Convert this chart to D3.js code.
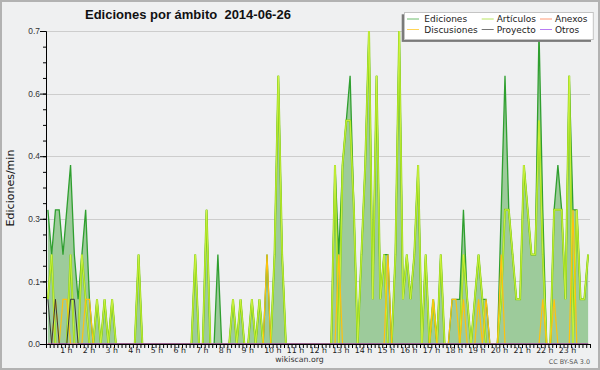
<!DOCTYPE html>
<html>
<head>
<meta charset="utf-8">
<script src="https://cdn.jsdelivr.net/npm/d3@7"></script>
<style>
  body { margin: 0; background: #fff; }
  svg { display: block; font-family: "DejaVu Sans", sans-serif; }
</style>
</head>
<body>
<div class="chart"></div>
<script>

// one value every 10 minutes (edits per minute), one row per hour
var ediciones = [
  0.3, 0.2, 0.3, 0.3, 0.2, 0.3,   // 0 h
  0.4, 0.2, 0.1, 0.2, 0.3, 0.1,   // 1 h
  0, 0.1, 0, 0.1, 0, 0.1,         // 2 h
  0, 0, 0, 0, 0, 0,               // 3 h
  0.2, 0, 0, 0, 0, 0,             // 4 h
  0, 0, 0, 0, 0, 0,               // 5 h
  0, 0, 0, 0.2, 0, 0,             // 6 h
  0.3, 0, 0, 0.2, 0, 0,           // 7 h
  0, 0.1, 0, 0.1, 0, 0,           // 8 h
  0.1, 0, 0.1, 0, 0.2, 0,         // 9 h
  0.2, 0.6, 0.2, 0, 0, 0,         // 10 h
  0, 0, 0, 0, 0, 0,               // 11 h
  0, 0, 0, 0, 0.4, 0.2,           // 12 h
  0.4, 0.5, 0.6, 0.3, 0, 0.2,     // 13 h
  0.4, 0.7, 0.1, 0.6, 0.1, 0.2,   // 14 h
  0.2, 0, 0.2, 0.7, 0.1, 0.2,     // 15 h
  0.1, 0.2, 0.4, 0, 0.2, 0,       // 16 h
  0.1, 0, 0.2, 0, 0, 0.1,         // 17 h
  0.1, 0.1, 0.3, 0.1, 0, 0.1,     // 18 h
  0.2, 0.1, 0.1, 0, 0, 0,         // 19 h
  0.3, 0.6, 0.3, 0.2, 0.1, 0.1,   // 20 h
  0.4, 0.3, 0.2, 0.2, 0.7, 0.3,   // 21 h
  0, 0, 0.3, 0.4, 0.3, 0.1,       // 22 h
  0.6, 0.3, 0.3, 0.1, 0.1, 0.2    // 23 h
];

var articulos = [
  0.1, 0.2, 0, 0, 0, 0,
  0.2, 0, 0, 0.2, 0.1, 0,
  0, 0.1, 0, 0.1, 0, 0.1,
  0, 0, 0, 0, 0, 0,
  0.2, 0, 0, 0, 0, 0,
  0, 0, 0, 0, 0, 0,
  0, 0, 0, 0.2, 0, 0,
  0.3, 0, 0, 0, 0, 0,
  0, 0.1, 0, 0.1, 0, 0,
  0.1, 0, 0.1, 0, 0, 0,
  0.2, 0.6, 0.2, 0, 0, 0,
  0, 0, 0, 0, 0, 0,
  0, 0, 0, 0, 0.4, 0,
  0.4, 0.5, 0.5, 0.3, 0, 0.2,
  0.4, 0.7, 0.1, 0.6, 0.1, 0.2,
  0, 0, 0.2, 0.7, 0.1, 0.2,
  0.1, 0.2, 0.4, 0, 0.2, 0,
  0.1, 0, 0.2, 0, 0, 0,
  0, 0, 0.2, 0.1, 0, 0.1,
  0.2, 0.1, 0, 0, 0, 0,
  0.1, 0.3, 0.3, 0.2, 0.1, 0.1,
  0.4, 0.3, 0.2, 0.2, 0.5, 0.2,
  0, 0, 0.3, 0.3, 0.3, 0.1,
  0.6, 0, 0.3, 0.1, 0.1, 0.2
];

var anexos = [
  0, 0, 0, 0, 0, 0,  0, 0, 0, 0, 0, 0,  0, 0, 0, 0, 0, 0,  0, 0, 0, 0, 0, 0,
  0, 0, 0, 0, 0, 0,  0, 0, 0, 0, 0, 0,  0, 0, 0, 0, 0, 0,  0, 0, 0, 0, 0, 0,
  0, 0, 0, 0, 0, 0,  0, 0, 0, 0, 0, 0,  0, 0, 0, 0, 0, 0,  0, 0, 0, 0, 0, 0,
  0, 0, 0, 0, 0, 0,  0, 0, 0, 0, 0, 0,  0, 0, 0, 0, 0, 0,  0, 0, 0, 0, 0, 0,
  0, 0, 0, 0, 0, 0,  0, 0, 0, 0, 0, 0,  0, 0, 0, 0, 0, 0,  0, 0, 0, 0, 0, 0,
  0, 0, 0, 0, 0, 0,  0, 0, 0, 0, 0, 0,  0, 0, 0, 0, 0, 0,  0, 0, 0, 0, 0, 0
];

var discusiones = [
  0, 0, 0.1, 0, 0.1, 0.1,
  0, 0, 0, 0, 0.1, 0.1,
  0, 0, 0, 0, 0, 0,
  0, 0, 0, 0, 0, 0,
  0, 0, 0, 0, 0, 0,
  0, 0, 0, 0, 0, 0,
  0, 0, 0, 0, 0, 0,
  0, 0, 0, 0, 0, 0,
  0, 0, 0, 0, 0, 0,
  0, 0, 0, 0, 0.2, 0,
  0, 0, 0, 0, 0, 0,
  0, 0, 0, 0, 0, 0,
  0, 0, 0, 0, 0, 0.2,
  0, 0, 0, 0, 0, 0,
  0, 0, 0, 0, 0, 0,
  0.2, 0, 0, 0, 0, 0,
  0, 0, 0, 0, 0, 0,
  0.1, 0, 0, 0, 0, 0.1,
  0.1, 0, 0.1, 0, 0, 0,
  0.1, 0, 0.1, 0, 0, 0,
  0.2, 0, 0, 0, 0, 0,
  0, 0, 0, 0, 0, 0.1,
  0, 0, 0.1, 0, 0, 0,
  0, 0.3, 0, 0, 0, 0
];

var proyecto = [
  0.1, 0, 0.1, 0, 0, 0,
  0.1, 0.1, 0, 0, 0, 0,
  0, 0, 0, 0, 0, 0,  0, 0, 0, 0, 0, 0,
  0, 0, 0, 0, 0, 0,  0, 0, 0, 0, 0, 0,  0, 0, 0, 0, 0, 0,  0, 0, 0, 0, 0, 0,
  0, 0, 0, 0, 0, 0,  0, 0, 0, 0, 0, 0,  0, 0, 0, 0, 0, 0,  0, 0, 0, 0, 0, 0,
  0, 0, 0, 0, 0, 0,  0, 0, 0, 0, 0, 0,  0, 0, 0, 0, 0, 0,  0, 0, 0, 0, 0, 0,
  0, 0, 0, 0, 0, 0,  0, 0, 0, 0, 0, 0,  0, 0, 0, 0, 0, 0,  0, 0, 0, 0, 0, 0,
  0, 0, 0, 0, 0, 0,  0, 0, 0, 0, 0, 0,  0, 0, 0, 0, 0, 0,  0, 0, 0, 0, 0, 0
];

var otros = [
  0, 0, 0, 0, 0, 0,  0, 0, 0, 0, 0, 0,  0, 0, 0, 0, 0, 0,  0, 0, 0, 0, 0, 0,
  0, 0, 0, 0, 0, 0,  0, 0, 0, 0, 0, 0,  0, 0, 0, 0, 0, 0,  0, 0, 0, 0, 0, 0,
  0, 0, 0, 0, 0, 0,  0, 0, 0, 0, 0, 0,  0, 0, 0, 0, 0, 0,  0, 0, 0, 0, 0, 0,
  0, 0, 0, 0, 0, 0,  0, 0, 0, 0, 0, 0,  0, 0, 0, 0, 0, 0,  0, 0, 0, 0, 0, 0,
  0, 0, 0, 0, 0, 0,  0, 0, 0, 0, 0, 0,  0, 0, 0, 0, 0, 0,  0, 0, 0, 0, 0, 0,
  0, 0, 0, 0, 0, 0,  0, 0, 0, 0, 0, 0,  0, 0, 0, 0, 0, 0,  0, 0, 0, 0, 0, 0
];

var seriesNames = ["Ediciones", "Artículos", "Anexos", "Discusiones", "Proyecto", "Otros"];
var yTicks = [0, 0.14, 0.28, 0.42, 0.56, 0.7];
var hourLabels = ["1 h", "2 h", "3 h", "4 h", "5 h", "6 h", "7 h", "8 h", "9 h", "10 h", "11 h", "12 h",
                  "13 h", "14 h", "15 h", "16 h", "17 h", "18 h", "19 h", "20 h", "21 h", "22 h", "23 h"];

var seriesColors = ["#2f9f2f", "#9ad81c", "#ff6f3c", "#ffc20e", "#3a3a3a", "#9a44ee"];

var W = 600, H = 370;
var margin = {top: 31, right: 10, bottom: 26, left: 46},
    width = W - margin.left - margin.right,
    height = H - margin.top - margin.bottom;

var root = d3.select(".chart")
  .append("svg")
    .attr("width", W)
    .attr("height", H);

// background + frame
root.append("rect")
  .attr("x", 1).attr("y", 1)
  .attr("width", W - 2).attr("height", H - 2)
  .attr("fill", "#eff0f1")
  .attr("stroke", "#b2b2b2")
  .attr("stroke-width", 2);

root.append("text")
  .attr("x", 85)
  .attr("y", 18.5)
  .style("font-family", "'Liberation Sans', Arial, sans-serif")
  .style("font-weight", "bold")
  .style("font-size", "13px")
  .style("white-space", "pre")
  .attr("fill", "#111")
  .text("Ediciones por ámbito  2014-06-26");

var svg = root.append("g")
  .attr("transform", "translate(" + margin.left + "," + margin.top + ")");

// x: minutes of the day, y: edits per minute
var x = d3.scaleLinear().domain([0, 1440]).range([0, width]);
var y = d3.scaleLinear().domain([0, 0.7]).range([height, 0]);

function minuteOf(i) { return i * 10 + 5; }

// grid
svg.selectAll(".grid")
  .data(yTicks.filter(function(d) { return d > 0; }))
  .enter().append("line")
    .attr("x1", 0).attr("x2", width)
    .attr("y1", function(d) { return Math.round(y(d)) + 0.5; })
    .attr("y2", function(d) { return Math.round(y(d)) + 0.5; })
    .attr("stroke", "#cdcdcd")
    .attr("stroke-width", 1);

// total area
var area = d3.area()
  .x(function(d, i) { return x(minuteOf(i)); })
  .y0(height)
  .y1(function(d) { return y(d); });

svg.append("path")
  .datum(ediciones)
  .attr("d", area)
  .attr("fill", "#9dcb9b");

var line = d3.line()
  .x(function(d, i) { return x(minuteOf(i)); })
  .y(function(d) { return y(d); });

svg.append("path").datum(ediciones).attr("d", line)
  .attr("fill", "none").attr("stroke", seriesColors[0]).attr("stroke-width", 1.3);

// articulos: soft lime stroke with a bright core
svg.append("path").datum(articulos).attr("d", line)
  .attr("fill", "none").attr("stroke", "#86d012").attr("stroke-width", 2);
svg.append("path").datum(articulos).attr("d", line)
  .attr("fill", "none").attr("stroke", "#dcf84a").attr("stroke-width", 0.8);

svg.append("path").datum(anexos).attr("d", line)
  .attr("fill", "none").attr("stroke", seriesColors[2]).attr("stroke-width", 1);
svg.append("path").datum(discusiones).attr("d", line)
  .attr("fill", "none").attr("stroke", seriesColors[3]).attr("stroke-width", 1.2);
svg.append("path").datum(proyecto).attr("d", line)
  .attr("fill", "none").attr("stroke", seriesColors[4]).attr("stroke-width", 1);
svg.append("path").datum(otros).attr("d", line)
  .attr("fill", "none").attr("stroke", seriesColors[5]).attr("stroke-width", 1);

// y axis
var yAxis = svg.append("g")
  .call(d3.axisLeft(y).tickValues(yTicks).tickSize(6).tickSizeOuter(0).tickPadding(0)
    .tickFormat(d3.format(".1f")));
yAxis.selectAll("text")
  .style("font-size", "8.4px")
  .attr("fill", "#333");
svg.append("g")
  .call(d3.axisLeft(y).tickValues(d3.range(0, 0.7001, 0.035)).tickSize(3).tickSizeOuter(0).tickFormat(""));

// x axis: a tick every 10 minutes
svg.append("g")
  .attr("transform", "translate(0," + height + ")")
  .call(d3.axisBottom(x).tickValues(d3.range(0, 1441, 10)).tickSize(4).tickSizeOuter(0).tickFormat(""));

svg.selectAll(".hlabel")
  .data(hourLabels)
  .enter().append("text")
    .attr("x", function(d, i) { return x((i + 1) * 60) - 8.5; })
    .attr("y", height + 9)
    .style("font-size", "7.8px")
    .attr("fill", "#222")
    .text(function(d) { return d; });

svg.selectAll(".domain").attr("stroke", "#000");
svg.selectAll(".tick line").attr("stroke", "#000");

// y label
root.append("text")
  .attr("transform", "translate(14,188) rotate(-90)")
  .attr("text-anchor", "middle")
  .style("font-size", "11px")
  .attr("fill", "#111")
  .text("Ediciones/min");

root.append("text")
  .attr("x", 299.5).attr("y", 362)
  .attr("text-anchor", "middle")
  .style("font-size", "7.8px")
  .attr("fill", "#333")
  .text("wikiscan.org");

root.append("text")
  .attr("x", 590).attr("y", 364)
  .attr("text-anchor", "end")
  .style("font-size", "6.4px")
  .attr("fill", "#555")
  .text("CC BY-SA 3.0");

// legend
var lg = root.append("g").attr("transform", "translate(404,12)");
lg.append("rect")
  .attr("x", -2.3).attr("y", 2.3)
  .attr("width", 189.3).attr("height", 27.6)
  .attr("fill", "#7a7a7a");
lg.append("rect")
  .attr("x", 0.5).attr("y", 0.5)
  .attr("width", 188.8).attr("height", 27)
  .attr("fill", "#fff")
  .attr("stroke", "#c4c4c4");

var colX = [3, 77.7, 136];
lg.selectAll(".sw")
  .data(seriesNames)
  .enter().append("line")
    .attr("x1", function(d, i) { return colX[i % 3]; })
    .attr("x2", function(d, i) { return colX[i % 3] + 12; })
    .attr("y1", function(d, i) { return Math.floor(i / 3) ? 17.5 : 7; })
    .attr("y2", function(d, i) { return Math.floor(i / 3) ? 17.5 : 7; })
    .attr("stroke", function(d, i) { return seriesColors[i]; })
    .attr("stroke-opacity", 0.7)
    .attr("stroke-width", 1);

lg.selectAll(".lt")
  .data(seriesNames)
  .enter().append("text")
    .attr("x", function(d, i) { return colX[i % 3] + (i % 3 == 0 ? 17.3 : 15); })
    .attr("y", function(d, i) { return Math.floor(i / 3) ? 20.6 : 10.2; })
    .style("font-size", "9px")
    .attr("fill", "#222")
    .text(function(d) { return d; });

</script>
</body>
</html>
